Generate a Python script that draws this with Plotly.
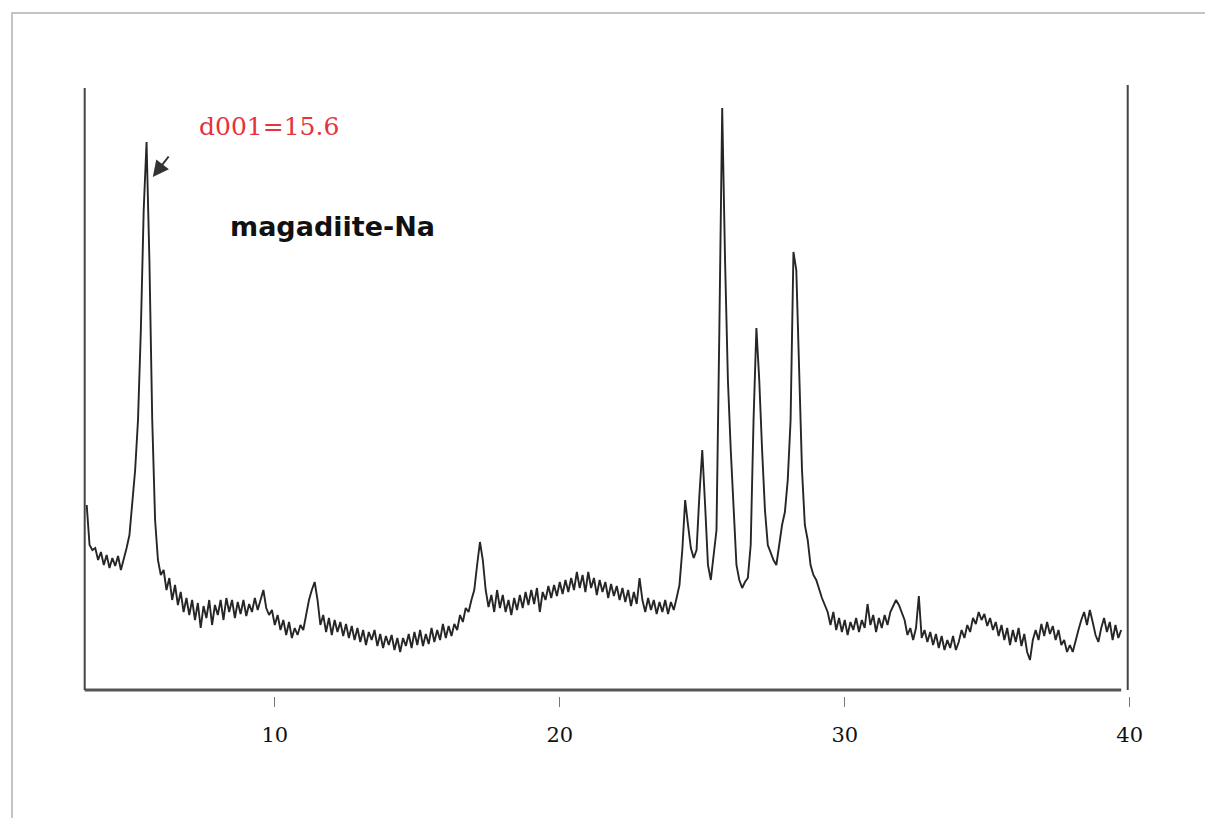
import numpy as np
import plotly.graph_objects as go

two_theta_start = 3.4
two_theta_step = 0.1
intensity = [
    185, 145, 140, 142, 130, 138, 125, 135, 122, 132,   # 3.4 - 4.3
    124, 134, 120, 130, 142, 155, 185, 220, 270, 360,   # 4.4 - 5.3
    480, 548, 430, 270, 170, 130, 115, 120, 100, 112,   # 5.4 - 6.3
    90, 105, 85, 98, 78, 92, 75, 90, 70, 87,            # 6.4 - 7.3
    62, 84, 72, 90, 65, 85, 75, 90, 70, 92,             # 7.4 - 8.3
    78, 90, 72, 88, 76, 90, 74, 86, 78, 92,             # 8.4 - 9.3
    80, 90, 100, 82, 75, 80, 65, 75, 60, 70,            # 9.4 - 10.3
    55, 68, 52, 62, 55, 65, 60, 75, 90, 100,            # 10.4 - 11.3
    108, 90, 65, 75, 58, 72, 55, 70, 58, 68,            # 11.4 - 12.3
    54, 66, 52, 64, 50, 62, 48, 60, 45, 58,             # 12.4 - 13.3
    50, 60, 44, 56, 42, 54, 45, 55, 40, 52,             # 13.4 - 14.3
    38, 52, 44, 56, 42, 58, 45, 60, 44, 56,             # 14.4 - 15.3
    46, 62, 48, 60, 50, 66, 52, 64, 54, 66,             # 15.4 - 16.3
    60, 75, 68, 82, 78, 90, 100, 125, 148, 130,         # 16.4 - 17.3
    100, 83, 95, 78, 100, 82, 95, 78, 90, 75,           # 17.4 - 18.3
    92, 80, 95, 82, 98, 85, 100, 86, 102, 78,           # 18.4 - 19.3
    98, 90, 104, 92, 105, 94, 108, 96, 110, 98,         # 19.4 - 20.3
    112, 100, 118, 102, 115, 98, 118, 102, 112, 95,     # 20.4 - 21.3
    110, 98, 108, 92, 106, 94, 104, 90, 102, 88,        # 21.4 - 22.3
    100, 84, 98, 86, 112, 90, 78, 92, 80, 90,           # 22.4 - 23.3
    76, 88, 78, 90, 76, 88, 80, 92, 105, 140,           # 23.4 - 24.3
    190, 165, 142, 132, 140, 195, 240, 185, 125, 110,   # 24.4 - 25.3
    135, 160, 360, 582, 430, 310, 240, 180, 125, 110,   # 25.4 - 26.3
    102, 108, 112, 145, 270, 362, 310, 240, 180, 145,   # 26.4 - 27.3
    138, 130, 125, 145, 165, 178, 210, 270, 438, 420,   # 27.4 - 28.3
    320, 220, 165, 150, 125, 115, 110, 100, 92, 85,     # 28.4 - 29.3
    78, 65, 78, 60, 72, 58, 70, 55, 68, 60,             # 29.4 - 30.3
    72, 58, 70, 62, 86, 65, 75, 58, 72, 62,             # 30.4 - 31.3
    75, 65, 78, 84, 90, 85, 78, 70, 55, 62,             # 31.4 - 32.3
    50, 62, 94, 52, 60, 48, 58, 45, 56, 42,             # 32.4 - 33.3
    54, 40, 50, 42, 54, 40, 48, 60, 52, 65,             # 33.4 - 34.3
    58, 72, 66, 78, 70, 76, 64, 72, 60, 68,             # 34.4 - 35.3
    54, 65, 50, 62, 45, 60, 48, 62, 44, 56,             # 35.4 - 36.3
    38, 30, 50, 60, 50, 66, 54, 68, 56, 64,             # 36.4 - 37.3
    50, 60, 45, 50, 38, 45, 38, 50, 60, 70,             # 37.4 - 38.3
    78, 65, 80, 68, 55, 48, 62, 72, 58, 68,             # 38.4 - 39.3
    50, 65, 52, 60,                                     # 39.4 - 39.7
]
x_ticks = [10, 20, 30, 40]
x_tick_labels = ["10", "20", "30", "40"]
sample_label = "magadiite-Na"
peak_label = "d001=15.6"

two_theta = np.round(two_theta_start + two_theta_step * np.arange(len(intensity)), 2)

x_min, x_max = 3.2, 40.15
x_left_line = 3.33
y_min, y_max = -6, 607

fig = go.Figure()
fig.add_trace(go.Scatter(
    x=two_theta, y=intensity, mode="lines",
    line=dict(color="#262626", width=1.9),
    hoverinfo="skip", showlegend=False,
))

axis_col = "#555555"
shapes = [
    # scanned page frame
    dict(type="rect", xref="paper", yref="paper",
         x0=-0.0655, y0=-0.25, x1=1.10, y1=1.114,
         line=dict(color="#c4c4c4", width=2), fillcolor="rgba(0,0,0,0)", layer="below"),
    # bottom axis line
    dict(type="line", xref="x", yref="y", x0=x_left_line, y0=0, x1=39.7, y1=0,
         line=dict(color=axis_col, width=3)),
    # left frame line
    dict(type="line", xref="x", yref="y", x0=x_left_line, y0=0, x1=x_left_line, y1=602,
         line=dict(color="#444444", width=2)),
    # right frame line
    dict(type="line", xref="x", yref="y", x0=39.93, y0=0, x1=39.93, y1=605,
         line=dict(color="#444444", width=2)),
]

annotations = [
    dict(x=5.72, y=513, xref="x", yref="y", text="", showarrow=True,
         ax=17, ay=-22, arrowhead=2, arrowsize=1.6, arrowwidth=2, arrowcolor="#333333"),
    dict(x=3.33 + (197 - 85) / 28.5, y=690 - 126, xref="x", yref="y",
         text=peak_label, showarrow=False, xanchor="left", yanchor="middle",
         font=dict(family="DejaVu Serif", size=25, color="#e8323c")),
    dict(x=3.33 + (228 - 85) / 28.5, y=690 - 226, xref="x", yref="y",
         text="<b>" + sample_label + "</b>", showarrow=False, xanchor="left", yanchor="middle",
         font=dict(family="DejaVu Sans", size=27, color="#111111")),
]

fig.update_layout(
    width=1213, height=818, autosize=False,
    paper_bgcolor="white", plot_bgcolor="white",
    margin=dict(l=73, r=87, t=75, b=130),
    shapes=shapes, annotations=annotations,
    xaxis=dict(range=[x_min, x_max], tickmode="array", tickvals=x_ticks,
               ticktext=x_tick_labels, ticks="outside", ticklen=10, tickwidth=1,
               tickcolor="#777777", showline=False, showgrid=False, zeroline=False,
               ticklabelstandoff=10,
               tickfont=dict(family="DejaVu Serif", size=21, color="#111111")),
    yaxis=dict(range=[y_min, y_max], visible=False, showgrid=False, zeroline=False),
)

fig.write_html("out.html")
